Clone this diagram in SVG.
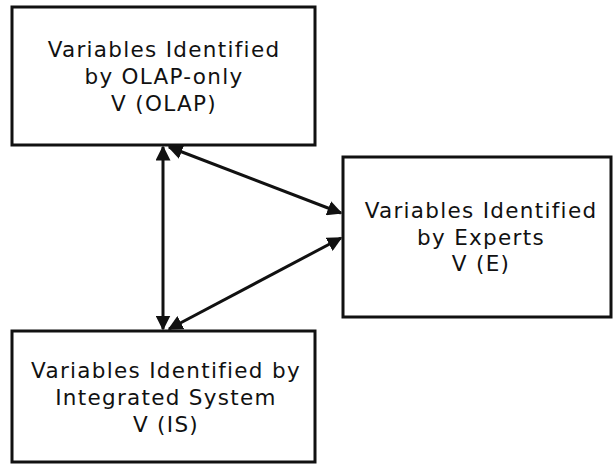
<svg xmlns="http://www.w3.org/2000/svg" width="614" height="464" viewBox="0 0 614 464">
  <style>
    .box { fill: #ffffff; stroke: #111111; stroke-width: 3; }
    .label { font-family: "DejaVu Sans", Verdana, sans-serif; font-size: 21.5px; letter-spacing: 1.3px; fill: #111111; text-anchor: middle; }
    .link { stroke: #111111; stroke-width: 3; fill: none; marker-start: url(#head); marker-end: url(#head); }
  </style>
  <defs>
    <marker id="head" viewBox="0 0 10 10" refX="9" refY="5" markerWidth="5" markerHeight="5" orient="auto-start-reverse" markerUnits="strokeWidth">
      <path d="M0,0 L10,5 L0,10 z" fill="#111111"/>
    </marker>
  </defs>
  <rect width="614" height="464" fill="#ffffff"/>

  <g id="connectors">
    <line class="link" x1="163" y1="147" x2="163" y2="329"/>
    <line class="link" x1="169" y1="147" x2="341" y2="213"/>
    <line class="link" x1="169" y1="329" x2="341" y2="238"/>
  </g>

  <g id="olap">
    <rect class="box" x="12" y="7" width="303" height="138"/>
    <text class="label" x="164" y="57">Variables Identified</text>
    <text class="label" x="164" y="84">by OLAP-only</text>
    <text class="label" x="164" y="111">V (OLAP)</text>
  </g>

  <g id="experts">
    <rect class="box" x="343" y="157" width="268" height="160"/>
    <text class="label" x="481" y="218">Variables Identified</text>
    <text class="label" x="481" y="245">by Experts</text>
    <text class="label" x="481" y="271">V (E)</text>
  </g>

  <g id="integrated">
    <rect class="box" x="12" y="331" width="303" height="131"/>
    <text class="label" x="166" y="378">Variables Identified by</text>
    <text class="label" x="166" y="405">Integrated System</text>
    <text class="label" x="166" y="432">V (IS)</text>
  </g>
</svg>
